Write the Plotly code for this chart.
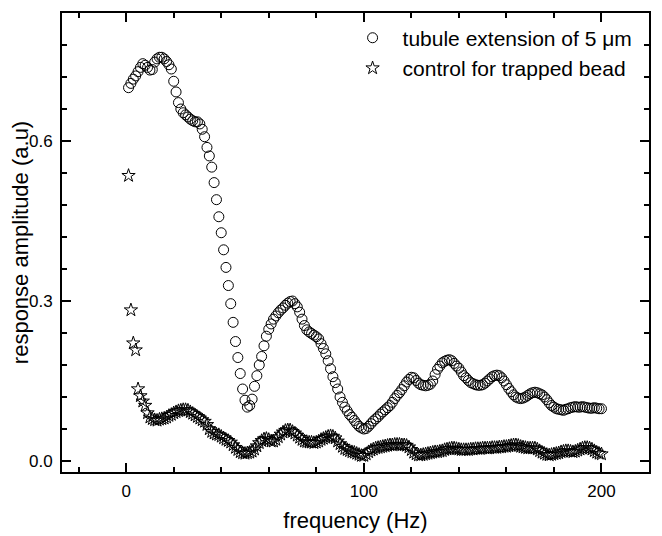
import plotly.graph_objects as go

freq = list(range(1, 201))

tubule = [
    0.700, 0.708, 0.716, 0.722, 0.730, 0.738, 0.745, 0.742, 0.738, 0.733,
    0.734, 0.748, 0.754, 0.757, 0.757, 0.754, 0.749, 0.743, 0.735, 0.712,
    0.692, 0.672, 0.660, 0.653, 0.649, 0.645, 0.641, 0.638, 0.636, 0.636,
    0.632, 0.622, 0.608, 0.588, 0.572, 0.551, 0.522, 0.490, 0.458, 0.428,
    0.396, 0.363, 0.329, 0.295, 0.260, 0.224, 0.194, 0.164, 0.135, 0.114,
    0.101, 0.104, 0.116, 0.140, 0.160, 0.180, 0.196, 0.216, 0.234, 0.247,
    0.257, 0.266, 0.272, 0.278, 0.283, 0.287, 0.292, 0.296, 0.299, 0.300,
    0.295, 0.289, 0.279, 0.266, 0.254, 0.246, 0.242, 0.239, 0.236, 0.233,
    0.229, 0.220, 0.211, 0.201, 0.188, 0.173, 0.158, 0.147, 0.135, 0.120,
    0.110, 0.101, 0.094, 0.087, 0.082, 0.076, 0.070, 0.065, 0.062, 0.060,
    0.061, 0.065, 0.070, 0.075, 0.079, 0.083, 0.088, 0.092, 0.096, 0.100,
    0.104, 0.110, 0.117, 0.123, 0.128, 0.134, 0.141, 0.148, 0.153, 0.157,
    0.156, 0.151, 0.146, 0.143, 0.142, 0.141, 0.142, 0.144, 0.150, 0.162,
    0.172, 0.178, 0.184, 0.187, 0.189, 0.190, 0.188, 0.183, 0.178, 0.174,
    0.167, 0.160, 0.156, 0.151, 0.147, 0.145, 0.143, 0.142, 0.142, 0.143,
    0.146, 0.150, 0.154, 0.158, 0.160, 0.161, 0.160, 0.156, 0.150, 0.143,
    0.136, 0.130, 0.124, 0.120, 0.118, 0.117, 0.118, 0.120, 0.123, 0.126,
    0.128, 0.129, 0.128, 0.126, 0.124, 0.120, 0.115, 0.109, 0.104, 0.101,
    0.098, 0.097, 0.096, 0.095, 0.097, 0.098, 0.100, 0.101, 0.102, 0.101,
    0.101, 0.102, 0.101, 0.100, 0.099, 0.099, 0.100, 0.099, 0.098, 0.098,
]

control = [
    0.535, 0.283, 0.221, 0.208, 0.135, 0.122, 0.112, 0.104, 0.090, 0.082,
    0.079, 0.077, 0.076, 0.078, 0.079, 0.080, 0.082, 0.085, 0.087, 0.090,
    0.092, 0.094, 0.095, 0.096, 0.096, 0.095, 0.092, 0.089, 0.086, 0.083,
    0.080, 0.077, 0.074, 0.068, 0.060, 0.055, 0.052, 0.050, 0.049, 0.046,
    0.043, 0.040, 0.038, 0.035, 0.030, 0.025, 0.021, 0.017, 0.015, 0.014,
    0.015, 0.016, 0.018, 0.022, 0.028, 0.034, 0.038, 0.041, 0.042, 0.040,
    0.037, 0.037, 0.040, 0.045, 0.050, 0.054, 0.057, 0.058, 0.058, 0.055,
    0.052, 0.048, 0.044, 0.040, 0.037, 0.036, 0.035, 0.035, 0.034, 0.035,
    0.037, 0.040, 0.042, 0.044, 0.046, 0.047, 0.046, 0.043, 0.037, 0.032,
    0.027, 0.023, 0.021, 0.019, 0.017, 0.016, 0.014, 0.012, 0.010, 0.010,
    0.013, 0.017, 0.020, 0.022, 0.024, 0.025, 0.026, 0.027, 0.028, 0.029,
    0.030, 0.030, 0.031, 0.031, 0.031, 0.030, 0.030, 0.029, 0.026, 0.021,
    0.016, 0.013, 0.011, 0.011, 0.012, 0.013, 0.014, 0.015, 0.016, 0.017,
    0.017, 0.018, 0.019, 0.021, 0.022, 0.023, 0.024, 0.024, 0.023, 0.022,
    0.021, 0.021, 0.021, 0.021, 0.022, 0.022, 0.023, 0.023, 0.023, 0.024,
    0.024, 0.024, 0.024, 0.025, 0.025, 0.025, 0.026, 0.026, 0.027, 0.027,
    0.028, 0.029, 0.030, 0.030, 0.029, 0.027, 0.026, 0.025, 0.024, 0.024,
    0.024, 0.024, 0.022, 0.019, 0.016, 0.014, 0.012, 0.011, 0.012, 0.013,
    0.014, 0.015, 0.017, 0.018, 0.019, 0.019, 0.018, 0.017, 0.018, 0.020,
    0.022, 0.024, 0.025, 0.025, 0.024, 0.022, 0.019, 0.016, 0.014, 0.013,
]

x_tick_vals = [0, 100, 200]
x_tick_text = ["0", "100", "200"]
y_tick_vals = [0.0, 0.3, 0.6]
y_tick_text = ["0.0", "0.3", "0.6"]

FONT = "Arial, Liberation Sans, sans-serif"

fig = go.Figure()
fig.add_trace(go.Scatter(
    x=freq, y=tubule, mode="markers", name="tubule extension of 5 μm",
    marker=dict(symbol="circle-open", size=10, color="black", line=dict(width=1, color="black")),
))
fig.add_trace(go.Scatter(
    x=freq, y=control, mode="markers", name="control for trapped bead",
    marker=dict(symbol="star-open", size=10, color="black", line=dict(width=1, color="black")),
))

axis_common = dict(
    showline=True, linecolor="black", linewidth=2, mirror="ticks",
    ticks="inside", ticklen=9, tickwidth=2, tickcolor="black",
    showgrid=False, zeroline=False, automargin=False,
    tickfont=dict(family=FONT, size=17, color="black"),
)

fig.update_xaxes(
    range=[-27, 220], tickvals=x_tick_vals, ticktext=x_tick_text,
    title=dict(text="frequency (Hz)", font=dict(family=FONT, size=22, color="black"), standoff=12),
    minor=dict(dtick=20, tick0=0, ticks="inside", ticklen=5, tickwidth=1.5, tickcolor="black", showgrid=False),
    ticklabelstandoff=3,
    **axis_common,
)
fig.update_yaxes(
    range=[-0.0206, 0.84], tickvals=y_tick_vals, ticktext=y_tick_text,
    title=dict(text="response amplitude (a.u)", font=dict(family=FONT, size=22, color="black"), standoff=6),
    minor=dict(dtick=0.06, tick0=0, ticks="inside", ticklen=5, tickwidth=1.5, tickcolor="black", showgrid=False),
    ticklabelstandoff=4,
    **axis_common,
)

# page body adds an 8px offset; figure sized/margined to place plot area like the reference
fig.update_layout(
    width=654, height=528,
    margin=dict(l=54, r=13, t=5, b=64, pad=0),
    paper_bgcolor="white", plot_bgcolor="white",
    showlegend=True,
    legend=dict(
        x=0.478, y=0.990, xanchor="left", yanchor="top",
        bgcolor="rgba(0,0,0,0)", borderwidth=0,
        font=dict(family=FONT, size=21, color="black"),
        itemwidth=50, tracegroupgap=0,
    ),
)

fig.write_html("out.html")
